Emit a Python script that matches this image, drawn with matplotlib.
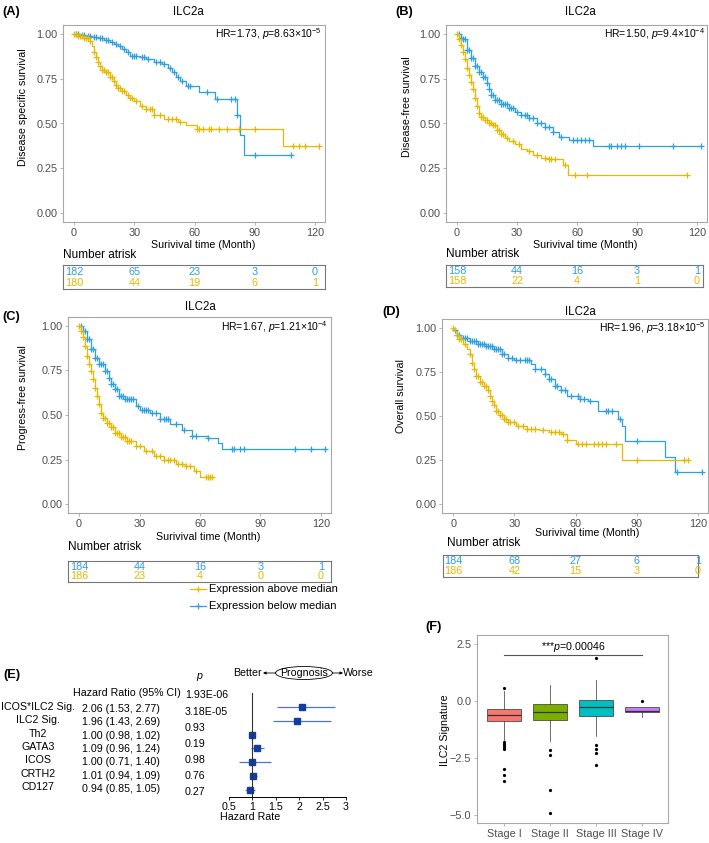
import numpy as np
import matplotlib
matplotlib.use("Agg")
import matplotlib.pyplot as plt
from matplotlib.patches import Ellipse
from matplotlib.transforms import blended_transform_factory

plt.rcParams['font.family'] = ['Liberation Sans', 'DejaVu Sans']
plt.rcParams['mathtext.fontset'] = 'custom'
plt.rcParams['mathtext.rm'] = 'Liberation Sans'
plt.rcParams['mathtext.it'] = 'Liberation Sans:italic'
plt.rcParams['mathtext.bf'] = 'Liberation Sans:bold'

# Colours
YEL = '#E7B800'   # expression above median
BLU = '#2E9FDF'   # expression below median
FRAME = '#A8A8A8'
TICKTXT = '#4D4D4D'

# ---------------- Kaplan-Meier data ----------------
# (A) Disease specific survival
tA_blue = [0, 3, 6, 9, 12, 15, 18, 20, 22, 24, 26, 28, 33, 36, 40, 44, 47, 49, 51, 53, 56, 62, 70, 81, 82.5, 84.5]
sA_blue = [1.0, 0.995, 0.99, 0.983, 0.975, 0.965, 0.955, 0.945, 0.93, 0.915, 0.9, 0.878, 0.87, 0.86, 0.845,
           0.83, 0.81, 0.785, 0.76, 0.735, 0.71, 0.675, 0.635, 0.545, 0.435, 0.326]
cA_blue = [1, 2, 4, 5, 7, 8, 10, 11, 13, 14, 16, 17, 19, 21, 23, 25, 27, 29, 30, 31, 34, 35, 37, 41, 43, 45,
           48, 50, 52, 54, 57, 58, 66, 71, 78, 80, 81, 90, 108]
tA_yel = [0, 2, 5, 8, 9, 10, 11, 12, 13, 14, 16, 18, 20, 21, 22, 24, 26, 28, 30, 33, 36, 40, 45, 52, 56, 61, 104]
sA_yel = [1.0, 0.99, 0.98, 0.96, 0.93, 0.9, 0.87, 0.845, 0.82, 0.8, 0.785, 0.76, 0.735, 0.715, 0.7, 0.68, 0.66,
          0.64, 0.625, 0.6, 0.58, 0.545, 0.525, 0.51, 0.49, 0.472, 0.375]
cA_yel = [0, 1, 2, 3, 4, 5, 6, 7, 8, 10, 11, 12, 13, 14, 15, 16, 17, 18, 19, 20, 21, 22, 23, 24, 25, 27, 28, 29,
          31, 34, 36, 38, 39, 40, 43, 47, 49, 51, 53, 61, 62, 64, 67, 68, 72, 76, 82, 90, 109, 112, 115, 122]

# (B) Disease-free survival
tB_blue = [0, 2, 3, 5, 7, 9, 11, 13, 15, 16, 17, 19, 22, 26, 29, 32, 36, 40, 44, 48, 51, 56, 68]
sB_blue = [1.0, 0.98, 0.97, 0.91, 0.865, 0.82, 0.79, 0.76, 0.725, 0.69, 0.66, 0.63, 0.61, 0.585, 0.565, 0.55,
           0.53, 0.5, 0.48, 0.455, 0.427, 0.406, 0.373]
cB_blue = [1, 2, 3, 4, 5, 6, 7, 8, 9, 10, 11, 12, 13, 14, 15, 16, 17, 18, 19, 20, 21, 22, 23, 24, 25, 26, 27, 28,
           30, 32, 34, 35, 36, 38, 40, 42, 44, 46, 48, 52, 58, 60, 62, 64, 66, 76, 77, 80, 82, 84, 91, 108, 122]
tB_yel = [0, 1, 2, 3, 4, 5, 6, 7, 8, 9, 10, 11, 12, 14, 16, 18, 20, 22, 24, 26, 29, 32, 35, 38, 42, 46, 53, 55.7]
sB_yel = [1.0, 0.97, 0.94, 0.9, 0.86, 0.81, 0.77, 0.73, 0.69, 0.64, 0.6, 0.56, 0.535, 0.52, 0.505, 0.49, 0.465,
          0.44, 0.42, 0.405, 0.385, 0.36, 0.345, 0.325, 0.31, 0.3, 0.266, 0.212]
cB_yel = [0, 1, 2, 3, 4, 5, 6, 7, 8, 9, 10, 11, 12, 13, 14, 15, 16, 17, 18, 19, 20, 21, 22, 23, 25, 28, 31, 36,
          40, 44, 46, 47, 49, 54, 59, 65, 115]

# (C) Progress-free survival
tC_blue = [0, 2, 4, 6, 8, 10, 13, 15, 16, 18, 20, 23, 28, 30, 35, 40, 45, 51, 56, 64, 69, 71]
sC_blue = [1.0, 0.97, 0.925, 0.87, 0.82, 0.785, 0.747, 0.71, 0.672, 0.645, 0.605, 0.587, 0.55, 0.53, 0.512,
           0.475, 0.447, 0.418, 0.38, 0.372, 0.343, 0.31]
cC_blue = [1, 2, 3, 4, 5, 6, 7, 8, 9, 10, 11, 12, 13, 14, 15, 16, 17, 18, 19, 20, 21, 22, 23, 24, 25, 26, 27, 29,
           31, 32, 33, 34, 36, 38, 40, 42, 43, 44, 48, 52, 56, 58, 64, 76, 77, 80, 82, 107, 115, 122]
tC_yel = [0, 1, 2, 3, 4, 5, 6, 7, 8, 9, 10, 11, 12, 14, 16, 18, 21, 24, 28, 32, 37, 42, 48, 53, 57, 60]
sC_yel = [1.0, 0.97, 0.94, 0.887, 0.83, 0.785, 0.747, 0.7, 0.653, 0.606, 0.56, 0.512, 0.484, 0.456, 0.432, 0.4,
          0.375, 0.353, 0.325, 0.296, 0.268, 0.25, 0.227, 0.212, 0.184, 0.15]
cC_yel = [0, 1, 2, 3, 4, 5, 6, 7, 8, 9, 10, 11, 12, 13, 14, 15, 16, 17, 18, 19, 20, 21, 22, 23, 24, 25, 26, 28,
          30, 33, 36, 38, 40, 42, 44, 45, 47, 49, 51, 53, 55, 58, 63, 64, 65, 66]

# (D) Overall survival
tD_blue = [0, 2, 4, 8, 12, 16, 20, 24, 27, 30, 38, 40, 45, 47, 50, 53, 56, 62, 66, 71, 81, 83, 84.5, 104, 109]
sD_blue = [0.99, 0.96, 0.94, 0.925, 0.91, 0.897, 0.878, 0.85, 0.83, 0.818, 0.794, 0.765, 0.737, 0.71, 0.67,
           0.645, 0.615, 0.597, 0.587, 0.53, 0.484, 0.446, 0.356, 0.268, 0.18]
cD_blue = [1, 2, 3, 5, 6, 7, 8, 9, 10, 11, 12, 13, 14, 15, 16, 17, 18, 19, 20, 21, 22, 23, 24, 25, 27, 29, 31,
           33, 35, 36, 37, 40, 43, 45, 47, 48, 50, 51, 53, 55, 58, 61, 62, 64, 67, 75, 76, 78, 82, 90, 110, 122]
tD_yel = [0, 1, 2, 3, 5, 7, 8, 9, 10, 11, 13, 15, 17, 18, 19, 20, 21, 23, 25, 27, 31, 36, 42, 47, 53, 56, 60, 83]
sD_yel = [1.0, 0.98, 0.96, 0.934, 0.906, 0.878, 0.85, 0.803, 0.765, 0.728, 0.69, 0.672, 0.645, 0.615, 0.587,
          0.56, 0.53, 0.503, 0.484, 0.465, 0.446, 0.428, 0.418, 0.409, 0.4, 0.362, 0.343, 0.253]
cD_yel = [0, 2, 3, 4, 6, 8, 9, 10, 11, 12, 13, 14, 15, 16, 17, 18, 19, 20, 21, 22, 23, 24, 25, 26, 27, 28, 30,
          32, 34, 36, 38, 40, 44, 48, 50, 52, 54, 56, 61, 63, 65, 69, 71, 73, 75, 80, 90, 113, 115]

risk_times = [0, 30, 60, 90, 120]
riskA_blue, riskA_yel = [182, 65, 23, 3, 0], [180, 44, 19, 6, 1]
riskB_blue, riskB_yel = [158, 44, 16, 3, 1], [158, 22, 4, 1, 0]
riskC_blue, riskC_yel = [184, 44, 16, 3, 1], [186, 23, 4, 0, 0]
riskD_blue, riskD_yel = [184, 68, 27, 6, 1], [186, 42, 15, 3, 0]

# ---------------- Forest plot data (E) ----------------
forest_names = ['ICOS*ILC2 Sig.', 'ILC2 Sig.', 'Th2', 'GATA3', 'ICOS', 'CRTH2', 'CD127']
forest_hr = [2.06, 1.96, 1.00, 1.09, 1.00, 1.01, 0.94]
forest_lo = [1.53, 1.43, 0.98, 0.96, 0.71, 0.94, 0.85]
forest_hi = [2.77, 2.69, 1.02, 1.24, 1.40, 1.09, 1.05]
forest_p = ['1.93E-06', '3.18E-05', '0.93', '0.19', '0.98', '0.76', '0.27']

# ---------------- Boxplot data (F) ----------------
stages = ['Stage I', 'Stage II', 'Stage III', 'Stage IV']
stage_colors = ['#F8766D', '#7CAE00', '#00BFC4', '#C77CFF']
box_q1 = [-0.88, -0.85, -0.67, -0.48]
box_med = [-0.60, -0.50, -0.25, -0.42]
box_q3 = [-0.33, -0.12, 0.03, -0.28]
box_whislo = [-1.70, -1.74, -1.52, -0.68]
box_whishi = [0.45, 0.71, 0.94, -0.28]
box_fliers = [[0.57, -1.82, -1.90, -1.98, -2.05, -2.11, -2.98, -3.26, -3.50],
              [-2.16, -2.37, -3.91, -4.94],
              [1.88, -1.93, -2.11, -2.28, -2.81],
              [0.0]]

W, H = 709, 843
fig = plt.figure(figsize=(W / 100, H / 100), dpi=100)

FS = 7.7  # general text size


def px_axes(l, t, r, b):
    return fig.add_axes([l / W, 1 - b / H, (r - l) / W, (b - t) / H])


def style_frame(ax):
    for sp in ax.spines.values():
        sp.set_color(FRAME)
        sp.set_linewidth(0.8)
    ax.tick_params(colors=FRAME, labelcolor=TICKTXT, labelsize=7.8, length=2.5, width=0.6, pad=1.5)


def km_panel(box, risk_box, curves, risks):
    ax = px_axes(*box)
    for t, s, c, col in curves:
        t = np.asarray(t, float)
        s = np.asarray(s, float)
        tt = np.append(t, max(c))
        ss = np.append(s, s[-1])
        ax.step(tt, ss, where='post', color=col, lw=0.9)
        c = np.asarray(c, float)
        cy = s[np.searchsorted(t, c, side='right') - 1]
        ax.plot(c, cy, ls='none', marker='+', color=col, ms=4.2, mew=0.9)
    ax.set_xlim(-5.5, 125)
    ax.set_ylim(-0.05, 1.05)
    ax.set_xticks(risk_times)
    ax.set_yticks([0, 0.25, 0.5, 0.75, 1.0])
    ax.set_yticklabels(['0.00', '0.25', '0.50', '0.75', '1.00'])
    style_frame(ax)

    rax = px_axes(*risk_box)
    rax.set_xticks([])
    rax.set_yticks([])
    for sp in rax.spines.values():
        sp.set_color('#777777')
        sp.set_linewidth(0.8)
    tr = blended_transform_factory(ax.transData, rax.transAxes)
    for vals, col, yy in zip(risks, [BLU, YEL], [0.71, 0.27]):
        for x, v in zip(risk_times, vals):
            rax.text(x, yy, str(v), transform=tr, ha='center', va='center', color=col, fontsize=7.8)
    return ax


km_panel((63, 25, 325, 222), (63, 265, 325, 289),
         [(tA_blue, sA_blue, cA_blue, BLU), (tA_yel, sA_yel, cA_yel, YEL)], [riskA_blue, riskA_yel])
km_panel((446, 25, 707, 222), (446, 265, 703, 287),
         [(tB_blue, sB_blue, cB_blue, BLU), (tB_yel, sB_yel, cB_yel, YEL)], [riskB_blue, riskB_yel])
km_panel((68, 317, 331, 513), (68, 561, 331, 582),
         [(tC_blue, sC_blue, cC_blue, BLU), (tC_yel, sC_yel, cC_yel, YEL)], [riskC_blue, riskC_yel])
km_panel((442, 319, 708, 513), (443, 555, 698, 577),
         [(tD_blue, sD_blue, cD_blue, BLU), (tD_yel, sD_yel, cD_yel, YEL)], [riskD_blue, riskD_yel])

# ---------------- Forest plot (E) ----------------
fax = px_axes(229, 693, 346, 797)
rows = np.arange(len(forest_names), 0, -1)
fax.hlines(rows, forest_lo, forest_hi, color='#4F74D3', lw=0.9)
fax.plot(forest_hr, rows, ls='none', marker='s', ms=4.8, color='#123C9E')
fax.axvline(1, color='#333333', lw=0.8)
fax.set_xlim(0.5, 3)
fax.set_ylim(0.49, 8.0)
fax.set_xticks([0.5, 1, 1.5, 2, 2.5, 3])
fax.set_xticklabels(['0.5', '1', '1.5', '2', '2.5', '3'])
fax.set_yticks([])
for k in ['top', 'right', 'left']:
    fax.spines[k].set_visible(False)
fax.spines['bottom'].set_linewidth(0.7)
fax.tick_params(axis='x', labelsize=FS, length=2.5, width=0.6, pad=1)
fax.set_facecolor('none')

# ---------------- Boxplot (F) ----------------
bax = px_axes(477, 635, 668, 823)
stats = []
for i in range(len(stages)):
    stats.append(dict(med=box_med[i], q1=box_q1[i], q3=box_q3[i], whislo=box_whislo[i],
                      whishi=box_whishi[i], fliers=box_fliers[i]))
bp = bax.bxp(stats, positions=[1, 2, 3, 4], widths=0.75, patch_artist=True, showcaps=False,
             boxprops=dict(edgecolor='#333333', linewidth=0.5),
             medianprops=dict(color='#333333', linewidth=0.9),
             whiskerprops=dict(color='#333333', linewidth=0.5),
             flierprops=dict(marker='o', ms=1.3, mfc='black', mec='black'))
for patch, col in zip(bp['boxes'], stage_colors):
    patch.set_facecolor(col)
bax.plot([1, 4], [2.05, 2.05], color='#555555', lw=0.8)
bax.text(2.5, 2.38, r'***$p$=0.00046', ha='center', va='center', fontsize=FS)
bax.set_xlim(0.41, 4.57)
bax.set_ylim(-5.37, 2.91)
bax.set_yticks([2.5, 0, -2.5, -5])
bax.set_yticklabels(['2.5', '0.0', '\u22122.5', '\u22125.0'])
bax.set_xticks([1, 2, 3, 4])
bax.set_xticklabels(stages)
style_frame(bax)

# ---------------- Text overlay in pixel coordinates ----------------
ov = fig.add_axes([0, 0, 1, 1])
ov.set_xlim(0, W)
ov.set_ylim(H, 0)
ov.axis('off')
ov.patch.set_alpha(0)

# panel letters
for lab, x, y in [('(A)', 2, 12), ('(B)', 395, 12), ('(C)', 2, 317), ('(D)', 382, 312),
                  ('(E)', 3, 675), ('(F)', 425, 627)]:
    ov.text(x, y, lab, fontsize=9.3, fontweight='bold', ha='left', va='center')

# KM titles, labels, HR annotations
km_text = [
    ((188, 12), (203, 245), (23, 107), 'Disease specific survival', (63, 255),
     (322, 34), r'HR=1.73, $p$=8.63×10$^{-5}$'),
    ((580, 12), (585, 245), (407, 107), 'Disease-free survival', (446, 254),
     (705, 34), r'HR=1.50, $p$=9.4×10$^{-4}$'),
    ((200, 307), (208, 537), (23, 398), 'Progress-free survival', (68, 547),
     (328, 327), r'HR=1.67, $p$=1.21×10$^{-4}$'),
    ((580, 312), (587, 533), (401, 396), 'Overall survival', (447, 543),
     (706, 328), r'HR=1.96, $p$=3.18×10$^{-5}$'),
]
for (tx, ty), (xx, xy), (yx, yy), ylab, (nx, ny), (hx, hy), hr in km_text:
    ov.text(tx, ty, 'ILC2a', fontsize=8.3, ha='center', va='center')
    ov.text(xx, xy, 'Surivival time (Month)', fontsize=FS, ha='center', va='center')
    ov.text(yx, yy, ylab, fontsize=FS, ha='center', va='center', rotation=90)
    ov.text(nx, ny, 'Number atrisk', fontsize=8.5, ha='left', va='center')
    ov.text(hx, hy, hr, fontsize=7.5, ha='right', va='center')

# legend for the KM curves
for col, y, lab in [(YEL, 589, 'Expression above median'), (BLU, 606, 'Expression below median')]:
    ov.plot([190, 206], [y, y], color=col, lw=0.9)
    ov.plot([198], [y], marker='+', color=col, ms=4.2, mew=0.9)
    ov.text(209, y, lab, fontsize=8, ha='left', va='center')

# forest table
ov.text(200, 677, r'$p$', fontsize=FS, ha='center', va='center')
ov.text(73, 693, 'Hazard Ratio (95% CI)', fontsize=FS, ha='left', va='center')
for i, name in enumerate(forest_names):
    ov.text(38, 707 + 13.33 * i, name, fontsize=FS, ha='center', va='center')
    ov.text(82, 709 + 13.33 * i, f'{forest_hr[i]:.2f} ({forest_lo[i]:.2f}, {forest_hi[i]:.2f})',
            fontsize=FS, ha='left', va='center')
p_y = [695] + [712 + 16 * i for i in range(len(forest_p) - 1)]
for yy, pv in zip(p_y, forest_p):
    ov.text(185, yy, pv, fontsize=FS, ha='left', va='center')
ov.text(250, 817, 'Hazard Rate', fontsize=FS, ha='center', va='center')

# Better <- (Prognosis) -> Worse
ov.text(262, 673, 'Better', fontsize=FS, ha='right', va='center')
ov.add_patch(Ellipse((304, 673), 57, 13, fill=False, lw=0.6, ec='black'))
ov.text(304, 673, 'Prognosis', fontsize=FS, ha='center', va='center')
ov.annotate('', xy=(263, 673), xytext=(276, 673),
            arrowprops=dict(arrowstyle='-|>', lw=0.6, color='black', mutation_scale=4, shrinkA=0, shrinkB=0))
ov.annotate('', xy=(343, 673), xytext=(332, 673),
            arrowprops=dict(arrowstyle='-|>', lw=0.6, color='black', mutation_scale=4, shrinkA=0, shrinkB=0))
ov.text(343, 673, 'Worse', fontsize=FS, ha='left', va='center')

# boxplot y label
ov.text(445, 730, 'ILC2 Signature', fontsize=FS, ha='center', va='center', rotation=90)

fig.savefig('out.png', dpi=100)
